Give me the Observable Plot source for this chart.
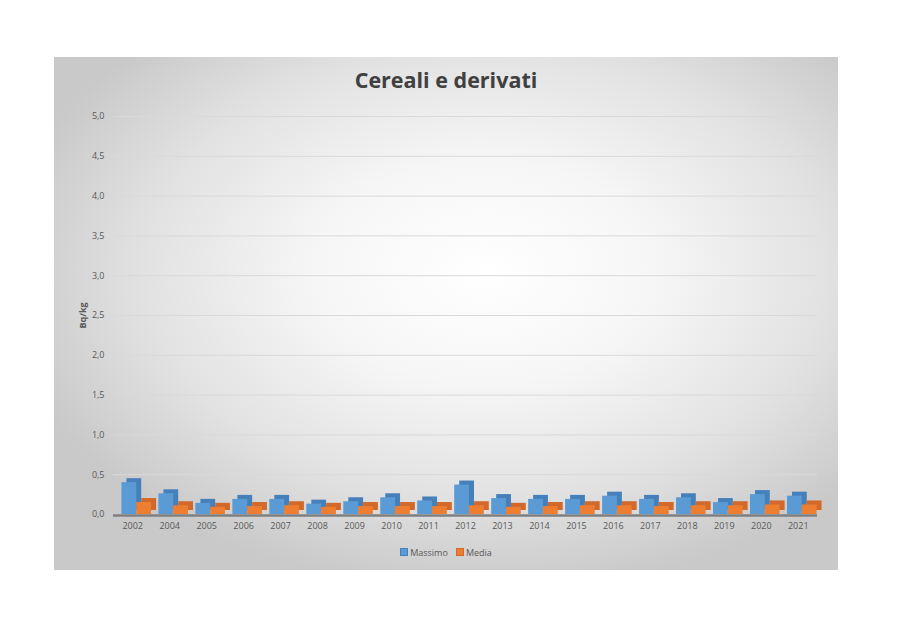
<!DOCTYPE html>
<html>
<head>
<meta charset="utf-8">
<script src="https://cdn.jsdelivr.net/npm/d3@7"></script>
<script src="https://cdn.jsdelivr.net/npm/@observablehq/plot@0.6"></script>
<style>
  html, body { margin: 0; padding: 0; background: #ffffff; width: 900px; height: 635px; overflow: hidden; }
  #box {
    position: absolute; left: 54px; top: 57px; width: 784px; height: 513px;
    background: radial-gradient(ellipse 62% 62% at 55% 42%, #ffffff 0%, #f6f6f6 35%, #e2e2e2 70%, #c9c9c9 100%);
    font-family: "Open Sans", sans-serif;
  }
  #title {
    position: absolute; left: 0; width: 784px; top: 8px; text-align: center;
    font-family: "Open Sans", sans-serif; font-weight: bold; font-size: 21.5px; color: #404040;
  }
  #chart { position: absolute; left: 0; top: 0; }
  #legend {
    position: absolute; left: 0; width: 784px; top: 489px; text-align: center;
    font-size: 9px; color: #595959; font-family: "Open Sans", sans-serif;
  }
  #legend span.sw { display: inline-block; width: 6px; height: 6px; margin-right: 2px; vertical-align: -0px; }
  #legend span.item { margin: 0 4px; }
  svg [aria-label="y-axis label"] text { font-weight: bold; }
</style>
</head>
<body>
<div id="box">
  <div id="title">Cereali e derivati</div>
  <div id="chart"></div>
  <div id="legend"></div>
</div>
<script>
const years = ["2002","2004","2005","2006","2007","2008","2009","2010","2011","2012","2013","2014","2015","2016","2017","2018","2019","2020","2021"];
const massimo = [0.40, 0.26, 0.14, 0.19, 0.19, 0.13, 0.16, 0.21, 0.17, 0.37, 0.20, 0.19, 0.19, 0.23, 0.19, 0.21, 0.15, 0.25, 0.23];
const media   = [0.15, 0.11, 0.09, 0.10, 0.11, 0.09, 0.10, 0.10, 0.10, 0.11, 0.09, 0.10, 0.11, 0.11, 0.10, 0.11, 0.11, 0.12, 0.12];
const seriesNames = ["Massimo", "Media"];
const seriesColors = ["#5b9bd5", "#ed7d31"];
const seriesSide = ["#4680bb", "#d2692a"];
const yTicks = [0, 0.5, 1, 1.5, 2, 2.5, 3, 3.5, 4, 4.5, 5];

const dM = years.map((y, i) => ({year: y, value: massimo[i]}));
const dA = years.map((y, i) => ({year: y, value: media[i]}));

const fmt = d => d.toFixed(1).replace(".", ",");
const half = 14.8;
const shift = 4;

const plot = Plot.plot({
  width: 784,
  height: 482,
  marginTop: 59,
  marginBottom: 25,
  marginLeft: 59,
  marginRight: 21,
  style: { background: "transparent", fontFamily: "Open Sans, sans-serif", fontSize: "9px", color: "#595959" },
  x: { domain: years, paddingInner: 0.2, paddingOuter: 0.12, round: false, label: null },
  y: { domain: [0, 5], label: null },
  marks: [
    Plot.ruleY(yTicks.filter(d => d > 0), { stroke: "#d9d9d9", strokeWidth: 1 }),
    Plot.axisY({ ticks: yTicks, tickFormat: fmt, tickSize: 0, tickPadding: 9, fill: "#595959", fontSize: 9, label: "Bq/kg", labelAnchor: "center", labelArrow: "none", labelOffset: 34 }),
    Plot.axisX({ tickSize: 0, tickPadding: 8, fill: "#595959", fontSize: 9, label: null }),
    // 3D depth (side/top) layers
    Plot.barY(dM, { x: "year", y: "value", fill: seriesSide[0], insetRight: half, dx: shift + 5, dy: -4 }),
    Plot.barY(dA, { x: "year", y: "value", fill: seriesSide[1], insetLeft: half, dx: shift + 5, dy: -4 }),
    // front faces
    Plot.barY(dM, { x: "year", y: "value", fill: seriesColors[0], insetRight: half, dx: shift }),
    Plot.barY(dA, { x: "year", y: "value", fill: seriesColors[1], insetLeft: half, dx: shift }),
    Plot.ruleY([0], { stroke: "#7f7f7f", strokeWidth: 2.5, dy: 1 })
  ]
});
document.getElementById("chart").appendChild(plot);

const legend = document.getElementById("legend");
seriesNames.forEach((n, i) => {
  const item = document.createElement("span");
  item.className = "item";
  const sw = document.createElement("span");
  sw.className = "sw";
  sw.style.background = seriesColors[i];
  sw.style.border = "1px solid " + seriesSide[i];
  item.appendChild(sw);
  item.appendChild(document.createTextNode(n));
  legend.appendChild(item);
});
</script>
</body>
</html>
